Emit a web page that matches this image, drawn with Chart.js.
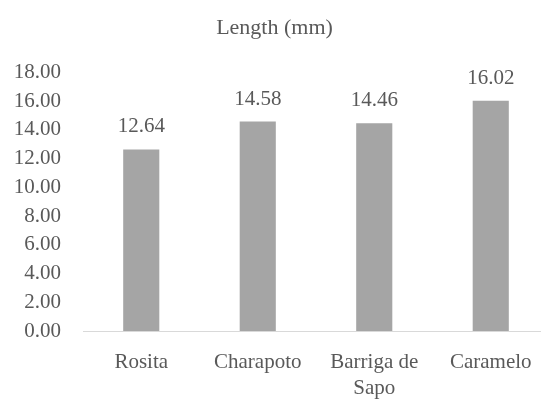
<!DOCTYPE html>
<html>
<head>
<meta charset="utf-8">
<script src="https://cdn.jsdelivr.net/npm/chart.js@4/dist/chart.umd.min.js"></script>
<style>
  html, body { margin: 0; padding: 0; background: #fff; overflow: hidden; }
  #wrap { width: 578px; height: 401px; }
</style>
</head>
<body>
<div id="wrap"><canvas id="c" width="578" height="401"></canvas></div>
<script>
// Fruit length per variety
const categories = ['Rosita', 'Charapoto', ['Barriga de', 'Sapo'], 'Caramelo'];
const lengthValues = [12.64, 14.58, 14.46, 16.02];
const yTicks = [0, 2, 4, 6, 8, 10, 12, 14, 16, 18];

const TEXT = '#595959';
const FONT = 'Liberation Serif, Times New Roman, serif';

// Value labels above each bar
const valueLabels = {
  id: 'valueLabels',
  afterDatasetsDraw(chart) {
    const ctx = chart.ctx;
    const meta = chart.getDatasetMeta(0);
    ctx.save();
    ctx.fillStyle = TEXT;
    ctx.font = '21px ' + FONT;
    ctx.textAlign = 'center';
    ctx.textBaseline = 'alphabetic';
    meta.data.forEach((bar, i) => {
      ctx.fillText(lengthValues[i].toFixed(2), bar.x, bar.y - 17);
    });
    ctx.restore();
  }
};

new Chart(document.getElementById('c'), {
  type: 'bar',
  data: {
    labels: categories,
    datasets: [{
      data: lengthValues,
      backgroundColor: '#a5a5a5',
      borderWidth: 0,
      barPercentage: 0.31,
      categoryPercentage: 1
    }]
  },
  options: {
    responsive: false,
    animation: false,
    devicePixelRatio: 1,
    layout: { padding: { left: 0, right: 29, top: 0, bottom: 0 } },
    plugins: {
      legend: { display: false },
      tooltip: { enabled: false },
      title: {
        display: true,
        text: 'Length (mm)',
        color: TEXT,
        font: { family: FONT, size: 22, weight: 'normal', lineHeight: 1.2 },
        padding: { top: 15, bottom: 31 }
      }
    },
    scales: {
      x: {
        grid: { display: false, drawTicks: false },
        border: { display: true, color: '#d9d9d9', width: 1 },
        ticks: {
          color: TEXT,
          padding: 18,
          maxRotation: 0,
          autoSkip: false,
          font: { family: FONT, size: 21, lineHeight: 1.24 }
        },
        afterFit(scale) { scale.height = 70; }
      },
      y: {
        min: 0,
        max: 18,
        grid: { display: false, drawTicks: false },
        border: { display: false },
        afterBuildTicks(scale) { scale.ticks = yTicks.map(v => ({ value: v })); },
        ticks: {
          color: TEXT,
          padding: 22,
          font: { family: FONT, size: 21 },
          callback: v => Number(v).toFixed(2)
        },
        afterFit(scale) { scale.width = 83; }
      }
    }
  },
  plugins: [valueLabels]
});
</script>
</body>
</html>
